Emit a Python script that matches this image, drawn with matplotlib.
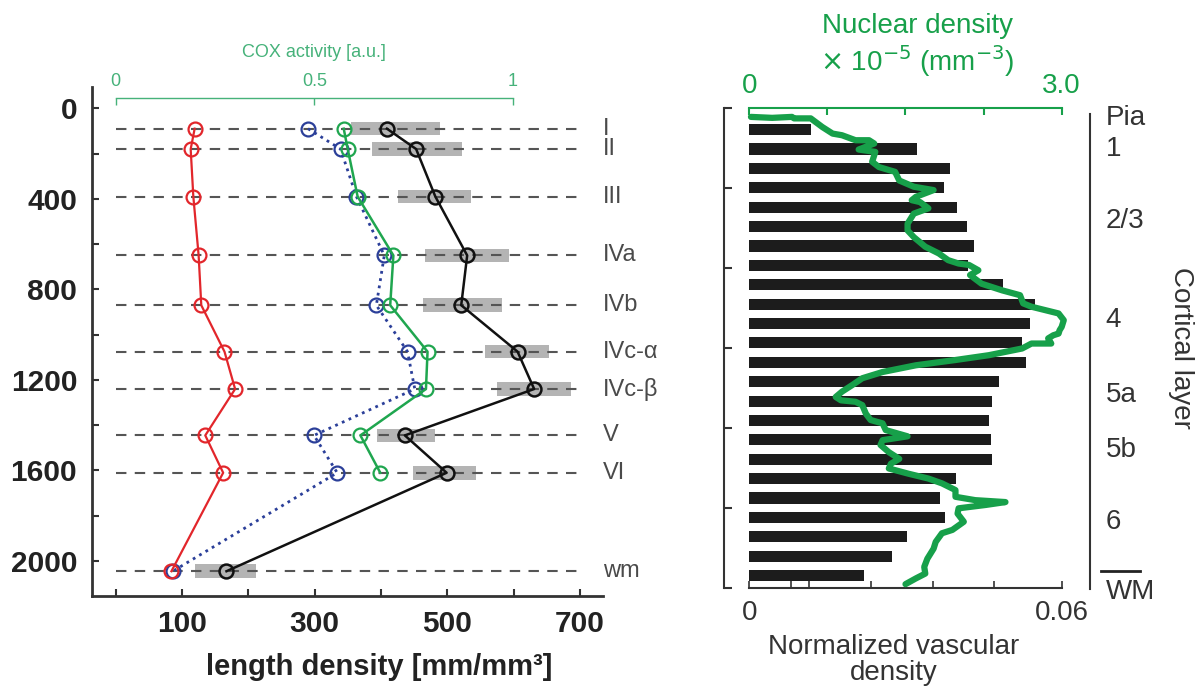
import numpy as np
import matplotlib.pyplot as plt
from matplotlib.ticker import FixedLocator, NullFormatter

# ---- left panel: densities per cortical layer ----
layers = ['I', 'II', 'III', 'IVa', 'IVb', 'IVc-α', 'IVc-β', 'V', 'VI', 'wm']
depth = [90, 180, 390, 650, 870, 1075, 1240, 1445, 1610, 2045]
red = [119, 113, 117, 125, 129, 164, 180, 135, 162, 84]
blue = [290, 339, 363, 405, 393, 440, 451, 299, 334, 86]
black = [409, 453, 482, 530, 521, 606, 631, 436, 499, 167]
black_lo = [355, 387, 426, 467, 464, 557, 575, 394, 448, 120]
black_hi = [489, 522, 536, 593, 582, 654, 686, 482, 544, 212]
cox = [0.574, 0.584, 0.609, 0.699, 0.691, 0.785, 0.781, 0.616, 0.666]

# ---- right panel: vascular bars and nuclear density trace ----
bar_depth = [0.046, 0.086, 0.127, 0.167, 0.208, 0.248, 0.288, 0.329, 0.369, 0.410,
             0.450, 0.490, 0.531, 0.571, 0.612, 0.652, 0.692, 0.733, 0.773, 0.814,
             0.854, 0.894, 0.935, 0.975]
vascular = [0.0118, 0.0322, 0.0385, 0.0373, 0.0398, 0.0418, 0.0432, 0.0421, 0.0488, 0.0549,
            0.0539, 0.0523, 0.0531, 0.0480, 0.0467, 0.0461, 0.0464, 0.0467, 0.0397, 0.0366,
            0.0376, 0.0303, 0.0275, 0.0220]
nuc_depth = [0.0195, 0.0215, 0.0195, 0.0226, 0.0226, 0.0404, 0.0543, 0.0577, 0.0681, 0.0681,
             0.075, 0.0875, 0.0924, 0.113, 0.124, 0.134, 0.152, 0.165, 0.172, 0.186,
             0.193, 0.197, 0.210, 0.221, 0.242, 0.256, 0.270, 0.290, 0.304, 0.318,
             0.325, 0.328, 0.339, 0.349, 0.367, 0.381, 0.391, 0.408, 0.415, 0.422,
             0.429, 0.443, 0.457, 0.464, 0.471, 0.4744, 0.481, 0.4917, 0.4917, 0.502,
             0.516, 0.526, 0.537, 0.551, 0.564, 0.578, 0.592, 0.603, 0.610, 0.613,
             0.620, 0.638, 0.651, 0.658, 0.672, 0.685, 0.693, 0.703, 0.718, 0.732,
             0.742, 0.752, 0.763, 0.773, 0.783, 0.797, 0.811, 0.818, 0.822, 0.828,
             0.835, 0.846, 0.863, 0.880, 0.887, 0.905, 0.919, 0.940, 0.957, 0.971,
             0.981, 0.993]
nuclear = [0.016, 0.22, 0.41, 0.43, 0.59, 0.70, 0.80, 0.89, 1.02, 1.15,
           1.20, 1.05, 1.21, 1.18, 1.245, 1.40, 1.44, 1.58, 1.77, 1.60,
           1.56, 1.64, 1.72, 1.58, 1.52, 1.52, 1.58, 1.69, 1.82, 1.91,
           2.01, 2.11, 2.20, 2.12, 2.23, 2.43, 2.60, 2.63, 2.71, 2.84,
           2.97, 3.02, 3.00, 2.98, 2.97, 2.92, 2.87, 2.90, 2.71, 2.62,
           2.30, 1.98, 1.60, 1.28, 1.085, 0.99, 0.89, 0.83, 0.88, 1.02,
           1.085, 1.12, 1.165, 1.28, 1.31, 1.52, 1.28, 1.26, 1.34, 1.44,
           1.36, 1.34, 1.53, 1.72, 1.85, 1.98, 1.98, 2.17, 2.46, 2.27,
           2.01, 2.00, 2.06, 1.95, 1.85, 1.79, 1.77, 1.71, 1.68, 1.69,
           1.60, 1.50]
layer_names = ['Pia', '1', '2/3', '4', '5a', '5b', '6', 'WM']
layer_pos = [0.022, 0.087, 0.237, 0.443, 0.599, 0.714, 0.864, 1.010]

GREEN = '#17a04a'
COXGREEN = '#46b27a'
TXT = '#333333'
SANS = 'Liberation Sans'

fig = plt.figure(figsize=(12.01, 6.92), dpi=100)

# =========== left panel ===========
ax = fig.add_axes([0.0770, 0.1392, 0.4249, 0.7347])
ax.set_xlim(-35.1, 734.5)
ax.set_ylim(2153, -93)

lo = np.array(black_lo)
hi = np.array(black_hi)
ax.barh(depth, hi - lo, left=lo, height=60, color='#b4b4b4', zorder=1)
ax.hlines(depth, 0, 700, colors='#555555', linestyles=(0, (5, 4)), lw=1.5, zorder=2)

ax.plot(blue, depth, ':', color='#2b3f99', lw=2, marker='o', ms=10,
        mfc='none', mec='#2b3f99', mew=1.6, zorder=4)
ax.plot(red, depth, '-', color='#e2262b', lw=1.6, marker='o', ms=10,
        mfc='none', mec='#e2262b', mew=1.6, zorder=5)
ax.plot(black, depth, '-', color='#111111', lw=1.8, marker='o', ms=10,
        mfc='none', mec='#111111', mew=1.8, zorder=5)

for sp in ['top', 'right']:
    ax.spines[sp].set_visible(False)
for sp in ['left', 'bottom']:
    ax.spines[sp].set_linewidth(2)
    ax.spines[sp].set_color('#333333')

ax.xaxis.set_major_locator(FixedLocator([100, 300, 500, 700]))
ax.xaxis.set_minor_locator(FixedLocator([0, 200, 400, 600]))
ax.yaxis.set_major_locator(FixedLocator([0, 400, 800, 1200, 1600, 2000]))
ax.yaxis.set_minor_locator(FixedLocator([200, 600, 1000, 1400, 1800]))
ax.tick_params(which='both', direction='in', length=5, width=1.5, color='#333333')
ax.tick_params(axis='y', pad=11, labelsize=21.5, labelcolor='#222222')
ax.tick_params(axis='x', pad=10, labelsize=21.5, labelcolor='#222222')
for lbl in ax.get_xticklabels() + ax.get_yticklabels():
    lbl.set_fontweight('bold')
    lbl.set_family(SANS)

ax.set_xlabel('length density [mm/mm³]', fontsize=21, fontweight='bold',
              color='#222222', family=SANS, va='top')
ax.xaxis.set_label_coords(0.561, -0.112)

for name, d in zip(layers, depth):
    ax.text(1.0, d, name, transform=ax.get_yaxis_transform(), ha='left', va='center',
            fontsize=17, color='#4a4a4a', family=SANS)

# COX activity on its own top scale
axc = ax.twiny()
axc.set_xlim(-35.1 / 599, 734.5 / 599)
axc.plot(cox, depth[:len(cox)], '-', color='#1fa64f', lw=1.8, marker='o', ms=10,
         mfc='none', mec='#1fa64f', mew=1.6, zorder=4)
for sp in ['left', 'right', 'bottom']:
    axc.spines[sp].set_visible(False)
axc.spines['top'].set_position(('axes', 0.978))
axc.spines['top'].set_bounds(0, 1)
axc.spines['top'].set_color(COXGREEN)
axc.spines['top'].set_linewidth(1)
axc.set_xticks([0, 0.5, 1])
axc.set_xticklabels(['0', '0.5', '1'])
axc.tick_params(axis='x', direction='in', length=5, width=1, color=COXGREEN,
                labelcolor=COXGREEN, labelsize=13, pad=6)
for lbl in axc.get_xticklabels():
    lbl.set_family(SANS)
axc.text(0.434, 1.0675, 'COX activity [a.u.]', transform=ax.transAxes, ha='center',
         va='center', fontsize=13, color=COXGREEN, family=SANS)

# =========== right panel ===========
axr = fig.add_axes([0.6239, 0.1510, 0.2601, 0.6936])
axr.set_xlim(0, 0.06)
axr.set_ylim(1.0, 0.0)
axr.barh(bar_depth, vascular, height=0.024, color='#1c1c1c', zorder=2)

axr.spines['top'].set_visible(False)
axr.spines['right'].set_visible(False)
axr.spines['left'].set_position(('outward', 18))
for sp in ['left', 'bottom']:
    axr.spines[sp].set_linewidth(1.5)
    axr.spines[sp].set_color('#333333')
axr.set_yticks(np.linspace(0, 1, 7))
axr.yaxis.set_major_formatter(NullFormatter())
axr.tick_params(axis='y', direction='in', length=6, width=1.5, color='#333333')
axr.xaxis.set_major_locator(FixedLocator([0, 0.06]))
axr.xaxis.set_minor_locator(FixedLocator([0.008, 0.0115, 0.0234, 0.0352, 0.047]))
axr.set_xticklabels(['0', '0.06'])
axr.tick_params(axis='x', which='both', direction='in', length=5, width=1.2,
                color='#333333', labelsize=20, labelcolor=TXT, pad=9)
for lbl in axr.get_xticklabels():
    lbl.set_family(SANS)
axr.text(0.4615, -0.152, 'Normalized vascular\ndensity', transform=axr.transAxes,
         ha='center', va='center', fontsize=20, color=TXT, linespacing=1.0,
         family=SANS)

# nuclear density trace on top scale
axn = axr.twiny()
axn.set_xlim(0, 3.0)
axn.plot(nuclear, nuc_depth, '-', color=GREEN, lw=4.5, solid_joinstyle='round',
         solid_capstyle='round', clip_on=False, zorder=3)
for sp in ['left', 'right', 'bottom']:
    axn.spines[sp].set_visible(False)
axn.spines['top'].set_color(GREEN)
axn.spines['top'].set_linewidth(1.5)
axn.set_xticks([0, 0.75, 1.5, 2.25, 3.0])
axn.set_xticklabels(['0', '', '', '', '3.0'])
axn.tick_params(axis='x', direction='in', length=5, width=1.5, color=GREEN,
                labelcolor=GREEN, labelsize=20, pad=6)
for lbl in axn.get_xticklabels():
    lbl.set_family(SANS)
axr.text(0.537, 1.170, 'Nuclear density', transform=axr.transAxes, ha='center',
         va='center', fontsize=20, color=GREEN, family=SANS)
axr.text(0.537, 1.096, r'$\times$ 10$^{-5}$ (mm$^{-3}$)', transform=axr.transAxes,
         ha='center', va='center', fontsize=20, color=GREEN, family=SANS)

# cortical layer annotation to the right (x in axes units, y in depth units)
ytr = axr.get_yaxis_transform()
axr.plot([1.09, 1.09], [0.014, 1.003], color='#333333', lw=1.5,
         transform=ytr, clip_on=False)
axr.plot([1.125, 1.25], [0.966, 0.966], color='#222222', lw=2,
         transform=ytr, clip_on=False)
for name, p in zip(layer_names, layer_pos):
    axr.text(1.141, p, name, transform=ytr, ha='left', va='center',
             fontsize=20, color=TXT, family=SANS)
axr.text(1.381, 0.5, 'Cortical layer', transform=axr.transAxes, ha='center',
         va='center', rotation=270, fontsize=20, color=TXT, family=SANS)

fig.savefig('out.png', dpi=100)
